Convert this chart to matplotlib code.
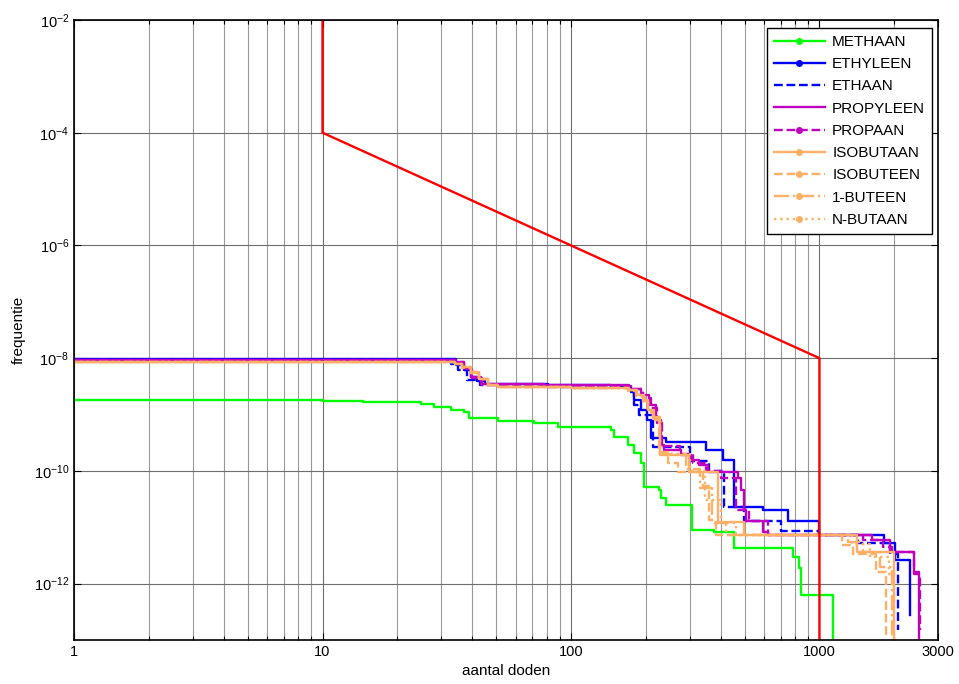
import numpy as np
import matplotlib
matplotlib.use('Agg')
import matplotlib.pyplot as plt
from matplotlib.lines import Line2D
from matplotlib.ticker import FixedLocator, NullLocator, FixedFormatter, LogLocator

plt.rcParams['font.family'] = ['Liberation Sans', 'DejaVu Sans']
plt.rcParams['mathtext.fontset'] = 'custom'
plt.rcParams['mathtext.rm'] = 'Liberation Sans'

# ---- data: number of deaths N (step start) and frequency F(>=N) --------------
methaan_n = [1, 10, 14.6, 20.6, 24.8, 28, 32.8, 37, 38.8, 50.8, 71, 88.6, 145, 149, 170, 180,
             191, 197, 226, 231, 242, 306, 377, 452, 785, 830, 846, 1138]
methaan_f = [1.81e-9, 1.76e-9, 1.70e-9, 1.65e-9, 1.55e-9, 1.36e-9, 1.20e-9, 1.11e-9, 8.67e-10,
             7.67e-10, 7.07e-10, 6.01e-10, 5.31e-10, 3.99e-10, 2.88e-10, 2.08e-10, 1.38e-10,
             5.18e-11, 4.58e-11, 3.3e-11, 2.48e-11, 8.93e-12, 8.2e-12, 4.28e-12, 2.97e-12,
             1.89e-12, 6.28e-13, 1e-15]

ethyleen_n = [1, 34.5, 37, 39.5, 42, 45, 81, 145, 174, 179, 191, 203, 210, 242, 350, 410, 454,
              594, 750, 1000, 1812, 2005, 2306]
ethyleen_f = [9.5e-9, 7.6e-9, 6.2e-9, 4.7e-9, 4.0e-9, 3.5e-9, 3.3e-9, 3.1e-9, 2.5e-9, 1.8e-9,
              1.2e-9, 8e-10, 3.9e-10, 3.2e-10, 2.35e-10, 1.56e-10, 2.3e-11, 2.0e-11, 1.3e-11,
              7.4e-12, 5.2e-12, 2.6e-12, 2.77e-13]

ethaan_n = [1, 33, 35, 38, 43, 81, 170, 180, 188, 214, 300, 360, 414, 499, 703, 1000, 1436,
            1915, 2063]
ethaan_f = [9.4e-9, 8.0e-9, 6.2e-9, 4.1e-9, 3.3e-9, 3.1e-9, 2.7e-9, 1.5e-9, 9.8e-10, 2.7e-10,
            1.5e-10, 1.0e-10, 2.3e-11, 1.3e-11, 8.5e-12, 7.3e-12, 5.2e-12, 3.4e-12, 1.5e-13]

propyleen_n = [1, 34.5, 37, 39.5, 43.4, 78, 172, 191, 206, 220, 230, 237, 278, 305, 328, 357,
               471, 485, 499, 508, 594, 622, 1622, 1915, 2393, 2507]
propyleen_f = [9.3e-9, 8.5e-9, 6.7e-9, 4.6e-9, 3.5e-9, 3.3e-9, 2.84e-9, 2.2e-9, 1.5e-9, 8e-10,
               2.9e-10, 2.35e-10, 1.9e-10, 1.56e-10, 1.27e-10, 9.6e-11, 7.5e-11, 4.6e-11,
               2.0e-11, 1.3e-11, 8.1e-12, 7.3e-12, 5.9e-12, 3.6e-12, 1.6e-12, 1e-15]

propaan_n = [1, 34, 37, 40, 44, 80, 174, 195, 210, 222, 232, 275, 310, 350, 403, 463, 522, 622,
             1500, 1800, 1951, 2393, 2530]
propaan_f = [9.2e-9, 8.4e-9, 6.5e-9, 4.5e-9, 3.4e-9, 3.2e-9, 2.8e-9, 2.0e-9, 1.3e-9, 7e-10,
             2.8e-10, 2.0e-10, 1.4e-10, 1.0e-10, 7.5e-11, 2.0e-11, 1.3e-11, 7.3e-12, 5.9e-12,
             4.5e-12, 3.6e-12, 1.5e-12, 1.5e-13]

isobutaan_n = [1, 34, 36.5, 39.5, 42.5, 46.5, 51, 100, 172, 185, 197, 205, 215, 228, 299, 392,
               499, 1410, 1987]
isobutaan_f = [8.5e-9, 8.0e-9, 6.9e-9, 5.6e-9, 4.3e-9, 3.4e-9, 3.1e-9, 2.96e-9, 2.72e-9, 2.2e-9,
               1.8e-9, 1.2e-9, 9e-10, 1.91e-10, 9.7e-11, 1.22e-11, 7.28e-12, 3.7e-12, 1e-15]

isobuteen_n = [1, 34, 36.5, 39.5, 42.5, 46.5, 51, 100, 170, 183, 195, 204, 213, 226, 246, 270,
               340, 360, 384, 1227, 1371, 1683, 1845]
isobuteen_f = [8.4e-9, 7.9e-9, 6.8e-9, 5.5e-9, 4.2e-9, 3.35e-9, 3.05e-9, 2.9e-9, 2.65e-9, 2.1e-9,
               1.7e-9, 1.1e-9, 8e-10, 2.2e-10, 1.4e-10, 9.7e-11, 5.4e-11, 1.34e-11, 7.3e-12,
               4.8e-12, 3.4e-12, 1.6e-12, 1.13e-13]

buteen1_n = [1, 34, 36.5, 39.5, 42.5, 46.5, 51, 100, 171, 184, 196, 205, 214, 228, 290, 330,
             370, 420, 1300, 1500, 1750, 1951]
buteen1_f = [8.5e-9, 8.0e-9, 6.9e-9, 5.5e-9, 4.25e-9, 3.4e-9, 3.1e-9, 2.93e-9, 2.7e-9, 2.15e-9,
             1.75e-9, 1.15e-9, 8.5e-10, 2.0e-10, 1.1e-10, 5e-11, 1.2e-11, 7.3e-12, 5.5e-12,
             3.7e-12, 2.0e-12, 1e-15]

nbutaan_n = [1, 34, 36.5, 39.5, 42.5, 46.5, 51, 100, 171, 184, 196, 205, 214, 228, 300, 345,
             400, 460, 1350, 1600, 1900, 2000]
nbutaan_f = [8.5e-9, 8.0e-9, 6.9e-9, 5.5e-9, 4.25e-9, 3.4e-9, 3.1e-9, 2.93e-9, 2.7e-9, 2.15e-9,
             1.75e-9, 1.15e-9, 8.5e-10, 2.0e-10, 1.0e-10, 3e-11, 1.2e-11, 7.3e-12, 5.0e-12,
             3.0e-12, 1.5e-12, 3e-13]

# norm line (orientation value)
norm_n = [10, 10, 1000, 1000]
norm_f = [1e-2, 1e-4, 1e-8, 1e-15]

x_ticks = [1, 10, 100, 1000, 3000]
x_ticklabels = ['1', '10', '100', '1000', '3000']
y_ticks = [1e-12, 1e-10, 1e-8, 1e-6, 1e-4, 1e-2]
y_ticklabels = [r'$\mathregular{10^{-12}}$', r'$\mathregular{10^{-10}}$', r'$\mathregular{10^{-8}}$',
                r'$\mathregular{10^{-6}}$', r'$\mathregular{10^{-4}}$', r'$\mathregular{10^{-2}}$']

GREEN = '#00FF00'
BLUE = '#0000FF'
MAG = '#BF00BF'
ORANGE = '#FFB066'

# label, n, f, colour, linestyle, marker in legend
series = [
    ('METHAAN', methaan_n, methaan_f, GREEN, '-', True),
    ('ETHYLEEN', ethyleen_n, ethyleen_f, BLUE, '-', True),
    ('ETHAAN', ethaan_n, ethaan_f, BLUE, '--', False),
    ('PROPYLEEN', propyleen_n, propyleen_f, MAG, '-', False),
    ('PROPAAN', propaan_n, propaan_f, MAG, '--', True),
    ('ISOBUTAAN', isobutaan_n, isobutaan_f, ORANGE, '-', True),
    ('ISOBUTEEN', isobuteen_n, isobuteen_f, ORANGE, '--', True),
    ('1-BUTEEN', buteen1_n, buteen1_f, ORANGE, '-.', True),
    ('N-BUTAAN', nbutaan_n, nbutaan_f, ORANGE, ':', True),
]

#===============================================================================

fig = plt.figure(figsize=(9.59, 6.84), dpi=100)
ax = fig.add_axes([0.0772, 0.0643, 0.9009, 0.9065])

LW = 1.7
handles = []
for label, n, f, col, ls, mk in series:
    ax.plot(n, f, color=col, linestyle=ls, linewidth=LW, drawstyle='steps-post')
    handles.append(Line2D([], [], color=col, linestyle=ls, linewidth=LW,
                          marker='o' if mk else None, markersize=4, label=label))

ax.plot(norm_n, norm_f, color='#FF0000', linewidth=LW)

ax.set_xscale('log')
ax.set_yscale('log')
ax.set_xlim(1, 3000)
ax.set_ylim(1e-13, 1e-2)

ax.xaxis.set_major_locator(FixedLocator(x_ticks))
ax.xaxis.set_major_formatter(FixedFormatter(x_ticklabels))
ax.xaxis.set_minor_locator(LogLocator(base=10, subs=np.arange(2, 10), numticks=20))
ax.yaxis.set_major_locator(FixedLocator(y_ticks))
ax.yaxis.set_major_formatter(FixedFormatter(y_ticklabels))
ax.yaxis.set_minor_locator(NullLocator())

ax.tick_params(which='both', direction='in', top=True, right=True, labelsize=10.5)
ax.tick_params(which='major', length=5, width=0.8)
ax.tick_params(which='minor', length=3, width=0.8)

ax.grid(True, which='major', axis='both', color='#6e6e6e', linewidth=0.8)
ax.grid(True, which='minor', axis='x', color='#9a9a9a', linewidth=0.8)
ax.set_axisbelow(True)
for sp in ax.spines.values():
    sp.set_linewidth(1.2)

ax.set_xlabel('aantal doden', fontsize=11, labelpad=4)
ax.set_ylabel('frequentie', fontsize=11, labelpad=6)

leg = ax.legend(handles=handles, loc='upper right', bbox_to_anchor=(0.9931, 0.987),
                borderaxespad=0, fontsize=11, handlelength=3.3, handletextpad=0.5,
                labelspacing=0.54, borderpad=0.45, fancybox=False, framealpha=1,
                edgecolor='black')
leg.get_frame().set_linewidth(1.0)

fig.savefig('out.png', dpi=100)
